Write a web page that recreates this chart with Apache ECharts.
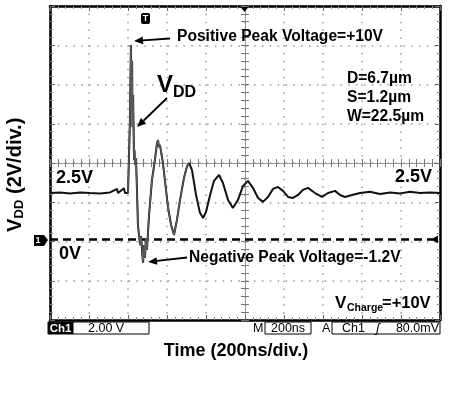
<!DOCTYPE html>
<html>
<head>
<meta charset="utf-8">
<script src="https://cdn.jsdelivr.net/npm/echarts@6/dist/echarts.min.js"></script>
<style>
html, body { margin: 0; padding: 0; background: #fff; }
#scope { width: 471px; height: 395px; }
</style>
</head>
<body>
<div id="scope"></div>
<script>
// time in ns (200ns/div), V_DD in volts (2V/div)
const timeNs = [0, 51, 103, 154, 205, 256, 308, 344, 349, 354, 379, 385, 400,
  405, 410, 415, 418, 421, 423, 426, 431, 433, 436, 441, 446, 451, 462, 467, 477,
  482, 487, 492, 497, 508, 523, 538, 549, 554, 559, 564, 579, 595, 605, 621, 636,
  651, 667, 687, 703, 713, 728, 749, 769, 785, 800, 821, 841, 867, 887, 913, 938,
  964, 990, 1015, 1041, 1067, 1092, 1118, 1144, 1169, 1195, 1221, 1246, 1272,
  1297, 1323, 1359, 1395, 1426, 1462, 1487, 1513, 1549, 1590, 1641, 1692, 1744,
  1795, 1846, 1897, 1949, 2000];
const vddVolts = [2.36, 2.39, 2.34, 2.39, 2.36, 2.34, 2.39, 2.57, 2.36, 2.39, 2.6, 2.36, 2.36,
  2.42, 6.09, 9.9, 6.6, 9.1, 5.73, 7.36, 4.04, 4.55, 3.79, 4.14, 2.52, 0.73, -0.29, 0.17, -1.2,
  -0.29, -0.95, 0.07, -0.54, 1.24, 3.03, 4.05, 4.91, 5.06, 4.7, 4.81, 3.89, 2.52, 1.65, 0.73, 0.22,
  0.99, 2.01, 3.13, 3.74, 3.89, 3.54, 2.26, 1.35, 1.09, 1.39, 2.26, 2.98, 3.28, 2.87, 2.01, 1.6,
  2.01, 2.72, 2.98, 2.62, 2.11, 1.91, 2.16, 2.57, 2.67, 2.47, 2.16, 2.11, 2.26,
  2.52, 2.62, 2.36, 2.16, 2.36, 2.47, 2.26, 2.16, 2.26, 2.36, 2.42, 2.31, 2.39,
  2.34, 2.42, 2.36, 2.39, 2.36];
const spikeStart = 400, spikeEnd = 713; // part of the trace drawn lighter

const FONT = "'Liberation Sans', Arial, sans-serif";
const scope = echarts.init(document.getElementById("scope"));

const trace = timeNs.map((t, i) => [t, vddVolts[i]]);
const spike = trace.filter((p) => p[0] >= spikeStart && p[0] <= spikeEnd);

function txt(x, y, text, size, opts) {
  return {
    type: "text", x: x, y: y, z: 100,
    style: Object.assign({
      text: text, font: "bold " + size + "px " + FONT, fill: "#000",
      align: "left", verticalAlign: "middle"
    }, opts || {})
  };
}
function arrow(x1, y1, x2, y2) {
  const a = Math.atan2(y2 - y1, x2 - x1), L = 9, W = 3.8;
  const bx = x2 - L * Math.cos(a), by = y2 - L * Math.sin(a);
  const px = -Math.sin(a) * W, py = Math.cos(a) * W;
  return [
    { type: "line", z: 100, shape: { x1: x1, y1: y1, x2: bx, y2: by }, style: { stroke: "#000", lineWidth: 1.8 } },
    { type: "polygon", z: 100, shape: { points: [[x2, y2], [bx + px, by + py], [bx - px, by - py]] }, style: { fill: "#000" } }
  ];
}
function box(x, y, w, h, fill) {
  return { type: "rect", z: 100, shape: { x: x, y: y, width: w, height: h },
    style: { fill: fill || "#fff", stroke: "#000", lineWidth: 1 } };
}

// axis templates
const edgeTick = { show: true, inside: true, length: 5, lineStyle: { color: "#666", width: 1 } };
const edgeMinor = { show: true, splitNumber: 5, length: 3, lineStyle: { color: "#888", width: 1 } };
const edgeLine = { show: true, onZero: false, lineStyle: { color: "#000", width: 2.5 } };
const midLine = { show: true, onZero: false, lineStyle: { color: "#999", width: 1 } };
const midTickIn = { show: true, inside: true, length: 4, lineStyle: { color: "#777" } };
const midTickOut = { show: true, inside: false, length: 4, lineStyle: { color: "#777" } };
const midMinor = { show: true, splitNumber: 5, length: 4, lineStyle: { color: "#777" } };
const dotted = { show: true, lineStyle: { color: "#999", type: [1.5, 6.35], width: 1.5 } };

function xAx(extra) {
  return Object.assign({ type: "value", min: 0, max: 2000, interval: 200,
    axisLabel: { show: false }, splitLine: { show: false } }, extra);
}
function yAx(extra) {
  return Object.assign({ type: "value", min: 0, max: 8, interval: 1,
    axisLabel: { show: false }, splitLine: { show: false } }, extra);
}

const option = {
  animation: false,
  backgroundColor: "#fff",
  grid: { left: 50, top: 6, width: 390, height: 314 },
  xAxis: [
    xAx({ position: "bottom", axisLine: edgeLine, axisTick: edgeTick, minorTick: edgeMinor, splitLine: dotted }),
    xAx({ position: "top", axisLine: edgeLine, axisTick: edgeTick, minorTick: edgeMinor }),
    xAx({ position: "bottom", offset: -157, axisLine: midLine, axisTick: midTickIn, minorTick: midMinor }),
    xAx({ position: "bottom", offset: -157, axisLine: midLine, axisTick: midTickOut, minorTick: midMinor })
  ],
  yAxis: [
    yAx({ position: "left", axisLine: edgeLine, axisTick: edgeTick, minorTick: edgeMinor, splitLine: dotted }),
    yAx({ position: "right", axisLine: edgeLine, axisTick: edgeTick, minorTick: edgeMinor }),
    yAx({ position: "left", offset: -195, axisLine: midLine, axisTick: midTickIn, minorTick: midMinor }),
    yAx({ position: "left", offset: -195, axisLine: midLine, axisTick: midTickOut, minorTick: midMinor }),
    // data axis: ground marker sits just above the 6th division from the top
    { type: "value", min: -4.11, max: 11.89, show: false, splitLine: { show: false } }
  ],
  series: [
    {
      name: "VDD", type: "line", xAxisIndex: 0, yAxisIndex: 4, data: trace,
      symbol: "none", z: 5,
      lineStyle: { color: "#111", width: 2 },
      markLine: {
        silent: true, symbol: "none", label: { show: false },
        lineStyle: { color: "#000", type: [8, 5], width: 2.5 },
        data: [{ yAxis: 0 }]
      }
    },
    {
      name: "VDD spike", type: "line", xAxisIndex: 0, yAxisIndex: 4, data: spike,
      symbol: "none", z: 6,
      lineStyle: { color: "#5a5a5a", width: 1.4 }
    }
  ],
  graphic: [
    // ground tag "1"
    { type: "polygon", z: 100, shape: { points: [[34, 235], [44, 235], [48, 240], [44, 246], [34, 246]] }, style: { fill: "#000" } },
    txt(38, 240.5, "1", 9, { fill: "#fff", align: "center" }),
    // trigger marker "T"
    { type: "rect", z: 100, shape: { x: 141, y: 13, width: 9, height: 11, r: 2 }, style: { fill: "#000" } },
    txt(145.5, 18.5, "T", 9, { fill: "#fff", align: "center" }),
    // trigger position / level markers
    { type: "polygon", z: 100, shape: { points: [[240.5, 7], [248.5, 7], [244.5, 12]] }, style: { fill: "#000" } },
    { type: "polygon", z: 100, shape: { points: [[431, 239.4], [438, 235.5], [438, 243.3]] }, style: { fill: "#000" } },

    // annotations
    txt(177, 37, "Positive Peak Voltage=+10V", 15.6),
    ...arrow(170, 38.5, 134, 41),
    txt(157, 85, "V", 24),
    txt(173, 93, "DD", 16),
    ...arrow(167, 98, 137, 127),
    txt(347, 79, "D=6.7\u00b5m", 15.6),
    txt(347, 98, "S=1.2\u00b5m", 15.6),
    txt(347, 117, "W=22.5\u00b5m", 15.6),
    txt(56, 178, "2.5V", 18),
    txt(432, 177, "2.5V", 18, { align: "right" }),
    txt(59, 254, "0V", 18),
    txt(189, 258, "Negative Peak Voltage=-1.2V", 15.6),
    ...arrow(187, 257.5, 148, 262),
    txt(335, 303, "V", 17),
    txt(347, 308, "Charge", 10.5),
    txt(382, 303, "=+10V", 16.5),

    // status bar
    box(48, 322, 25, 12, "#000"),
    txt(60.5, 328.5, "Ch1", 11.5, { fill: "#fff", align: "center" }),
    box(73, 322, 76, 12),
    txt(88, 328.5, "2.00 V", 12.5, { font: "12.5px " + FONT }),
    txt(253, 328.5, "M", 12.5, { font: "12.5px " + FONT }),
    box(265, 322, 46, 12),
    txt(288, 328.5, "200ns", 12.5, { font: "12.5px " + FONT, align: "center" }),
    txt(322, 328.5, "A", 12.5, { font: "12.5px " + FONT }),
    box(332, 322, 108, 12),
    txt(342, 328.5, "Ch1", 12.5, { font: "12.5px " + FONT }),
    txt(376, 328.5, "\u0283", 12.5, { font: "italic 12.5px " + FONT }),
    txt(439, 328.5, "80.0mV", 12.5, { font: "12.5px " + FONT, align: "right" }),

    // axis titles
    txt(236, 351, "Time (200ns/div.)", 18, { align: "center" }),
    {
      type: "group", x: 15, y: 232, rotation: Math.PI / 2, z: 100,
      children: [
        txt(0, 0, "V", 20),
        txt(13.5, 4, "DD", 13),
        txt(38, 0, "(2V/div.)", 20)
      ]
    }
  ]
};
scope.setOption(option);
window.addEventListener("resize", () => scope.resize());
</script>
</body>
</html>
